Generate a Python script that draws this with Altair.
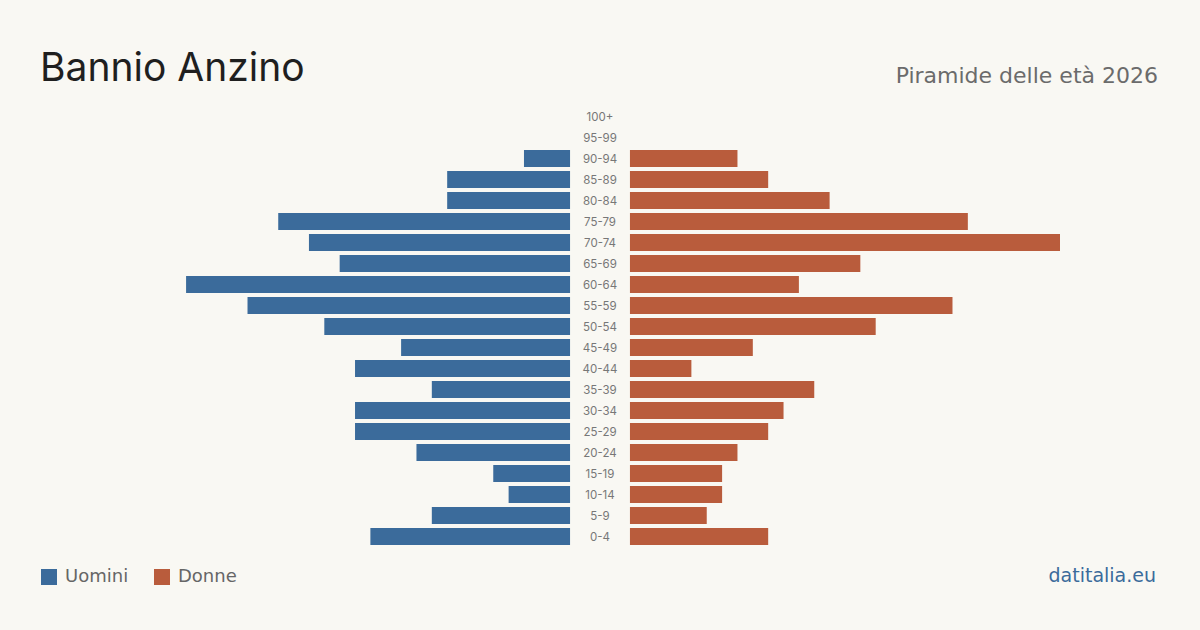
import altair as alt
import pandas as pd

ages = ["100+", "95-99", "90-94", "85-89", "80-84", "75-79", "70-74", "65-69",
        "60-64", "55-59", "50-54", "45-49", "40-44", "35-39", "30-34", "25-29",
        "20-24", "15-19", "10-14", "5-9", "0-4"]
uomini = [0, 0, 3, 8, 8, 19, 17, 15, 25, 21, 16, 11, 14, 9, 14, 14, 10, 5, 4, 9, 13]
donne = [0, 0, 7, 9, 13, 22, 28, 15, 11, 21, 16, 8, 4, 12, 10, 9, 7, 6, 6, 5, 9]

BG = "#f9f8f3"
BLUE = "#3b6b9b"
ORANGE = "#b95c3c"
GAP = 1.95  # half of central gap in data units
XMAX = 28 + GAP
SEC_FONT = "DejaVu Sans"

rows = []
for a, u, d in zip(ages, uomini, donne):
    rows.append({"age": a, "sesso": "Uomini", "v": u, "sign": -1})
    rows.append({"age": a, "sesso": "Donne", "v": d, "sign": 1})
df = pd.DataFrame(rows)
lab = pd.DataFrame({"age": ages})

yenc = alt.Y("age:N", sort=ages, axis=None,
             scale=alt.Scale(paddingInner=0.19, paddingOuter=0.095))
xscale = alt.Scale(domain=[-XMAX, XMAX], nice=False, zero=False)

bars = alt.Chart(df).transform_filter("datum.v > 0").transform_calculate(
    x1=f"datum.sign * {GAP}", x2=f"datum.sign * ({GAP} + datum.v)"
).mark_bar(cornerRadius=0).encode(
    x=alt.X("x1:Q", scale=xscale, axis=None),
    x2="x2:Q",
    y=yenc,
    color=alt.Color("sesso:N",
                    scale=alt.Scale(domain=["Uomini", "Donne"], range=[BLUE, ORANGE]),
                    legend=alt.Legend(title=None, orient="none", legendX=-100, legendY=462,
                                      direction="horizontal", symbolType="square",
                                      symbolSize=256, symbolStrokeWidth=0,
                                      symbolOpacity=1,
                                      labelFontSize=18, labelColor="#666666",
                                      labelFont=SEC_FONT, labelOffset=7,
                                      columnPadding=24, padding=0)),
)

labels = alt.Chart(lab).mark_text(font="Inter", fontSize=11.5, color="#777777",
                                  baseline="middle", align="center", dy=1).encode(
    x=alt.X("zero:Q", scale=xscale, axis=None),
    y=yenc,
    text="age:N",
).transform_calculate(zero="0")

title = alt.Chart(pd.DataFrame({"t": ["Bannio Anzino"]})).mark_text(
    font="Inter", fontSize=39, color="#1f1f1f", align="left", baseline="alphabetic"
).encode(x=alt.value(-100), y=alt.value(-25), text="t:N")

subtitle = alt.Chart(pd.DataFrame({"t": ["Piramide delle età 2026"]})).mark_text(
    font=SEC_FONT, fontSize=22, color="#6b6b6b", align="right", baseline="alphabetic"
).encode(x=alt.value(1018), y=alt.value(-23), text="t:N")

source = alt.Chart(pd.DataFrame({"t": ["datitalia.eu"]})).mark_text(
    font=SEC_FONT, fontSize=19, color="#3b6b9b", align="right", baseline="alphabetic"
).encode(x=alt.value(1016), y=alt.value(476), text="t:N")

chart = alt.layer(bars, labels, title, subtitle, source).properties(
    width=920, height=441, background=BG,
    padding={"left": 140, "top": 106, "right": 140, "bottom": 83},
    autosize=alt.AutoSizeParams(type="none"),
).configure_view(stroke=None)

chart.save("out.html", embed_options={"renderer": "svg", "actions": False})
